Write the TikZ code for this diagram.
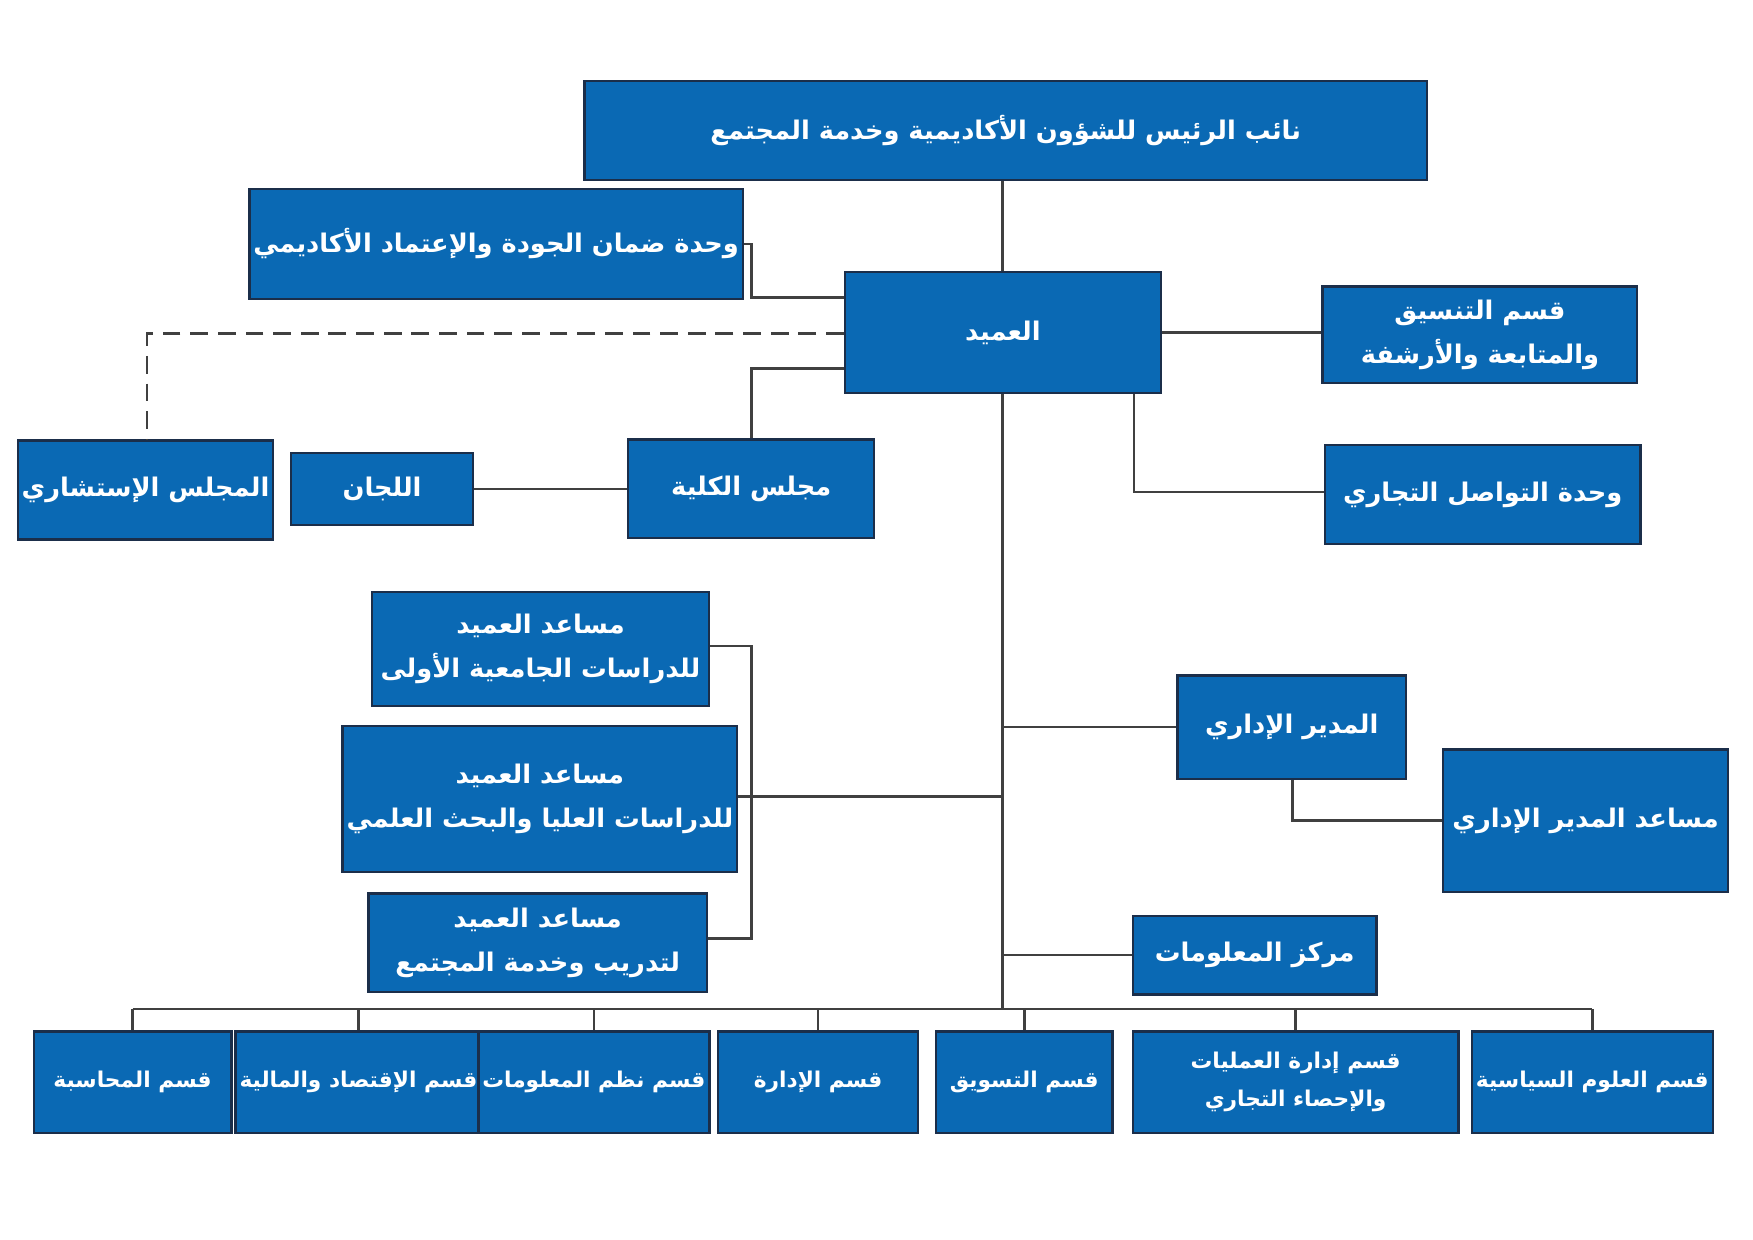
\documentclass[tikz,border=0pt]{standalone}
\usepackage{fontspec}
\newfontfamily\arabicfont[Script=Arabic]{DejaVu Sans}
\TeXXeTstate=1
\newcommand{\ar}[1]{\beginR #1\endR}
\definecolor{boxblue}{HTML}{0A69B4}
\definecolor{boxedge}{HTML}{1B2E4A}
\definecolor{linegray}{HTML}{404040}
\newcommand{\bx}[6]{\node[box,minimum width={(#4-#2)*0.2mm},minimum height={(#5-#3)*0.2mm}] (#1) at ({(#2+#4)/2},{(#3+#5)/2}) {#6};}
\begin{document}
\begin{tikzpicture}[x=0.2mm,y=-0.2mm,
  box/.style={draw=boxedge,line width=1.2pt,fill=boxblue,text=white,inner sep=2pt,
    align=center,font=\arabicfont\bfseries\fontsize{13}{22}\selectfont},
  small/.style={font=\arabicfont\bfseries\fontsize{11}{19}\selectfont},
  link/.style={draw=linegray,line width=1.3pt}]
\useasboundingbox (0,0) rectangle (1560,1103);
% boxes
\bx{vp}{520}{72}{1270}{160}{\ar{نائب الرئيس للشؤون الأكاديمية وخدمة المجتمع}}
\bx{quality}{244}{168}{639}{266}{\ar{وحدة ضمان الجودة والإعتماد الأكاديمي}}
\bx{dean}{752}{242}{1033}{350}{\ar{العميد}}
\bx{coord}{1177}{255}{1457}{341}{\ar{قسم التنسيق}\\\ar{والمتابعة والأرشفة}}
\bx{trade}{1179}{396}{1460}{484}{\ar{وحدة التواصل التجاري}}
\bx{council}{559}{391}{778}{479}{\ar{مجلس الكلية}}
\bx{committees}{259}{403}{421}{467}{\ar{اللجان}}
\bx{advisory}{32}{392}{227}{480}{\ar{المجلس الإستشاري}}
\bx{asstA}{331}{527}{631}{628}{\ar{مساعد العميد}\\\ar{للدراسات الجامعية الأولى}}
\bx{asstB}{331}{646}{630}{776}{\ar{مساعد العميد}\\\ar{للدراسات العليا والبحث العلمي}}
\bx{asstC}{328}{795}{629}{883}{\ar{مساعد العميد}\\\ar{لتدريب وخدمة المجتمع}}
\bx{admin}{1048}{601}{1251}{693}{\ar{المدير الإداري}}
\bx{asstadmin}{1284}{667}{1538}{794}{\ar{مساعد المدير الإداري}}
\bx{infocenter}{1008}{815}{1225}{885}{\ar{مركز المعلومات}}
\tikzset{box/.append style={small}}
\bx{acct}{30}{918}{206}{1008}{\ar{قسم المحاسبة}}
\bx{econ}{220}{918}{418}{1008}{\ar{قسم الإقتصاد والمالية}}
\bx{infosys}{427}{918}{630}{1008}{\ar{قسم نظم المعلومات}}
\bx{mgmt}{639}{918}{817}{1008}{\ar{قسم الإدارة}}
\bx{mkt}{833}{918}{990}{1008}{\ar{قسم التسويق}}
\bx{ops}{1008}{918}{1298}{1008}{\ar{قسم إدارة العمليات}\\\ar{والإحصاء التجاري}}
\bx{polsci}{1318}{918}{1516}{1008}{\ar{قسم العلوم السياسية}}
% connectors
\coordinate (bar) at (892,898);
\coordinate (bracket) at (669,575);
\draw[link] (vp.south -| bar) -- (dean.north -| bar);
\draw[link] (dean.south -| bar) -- (bar);
\draw[link] (acct.north |- bar) -- (polsci.north |- bar);
\foreach \n in {acct,econ,infosys,mgmt,mkt,ops,polsci}
  \draw[link] (\n.north) -- (\n.north |- bar);
\draw[link] (quality.east) -| (669,265) -- (dean.west |- 0,265);
\draw[link,dashed,dash pattern=on 9pt off 5pt] (dean.west |- 0,297) -| (advisory.north -| 131,0);
\draw[link] (dean.west |- 0,328) -| (council.north -| 669,0);
\draw[link] (committees.east) -- (council.west |- committees.east);
\draw[link] (dean.east) -- (coord.west |- dean.east);
\draw[link] (dean.south -| 1009,0) |- (trade.west |- 0,438);
\draw[link] (asstA.east |- bracket) -- (bracket) |- (asstC.east |- 0,835);
\draw[link] (asstB.east |- 0,709) -- (bar |- 0,709);
\draw[link] (bar |- admin.west) -- (admin.west);
\draw[link] (admin.south -| 1150,0) |- (asstadmin.west |- 0,730);
\draw[link] (bar |- infocenter.west) -- (infocenter.west);
\end{tikzpicture}
\end{document}
